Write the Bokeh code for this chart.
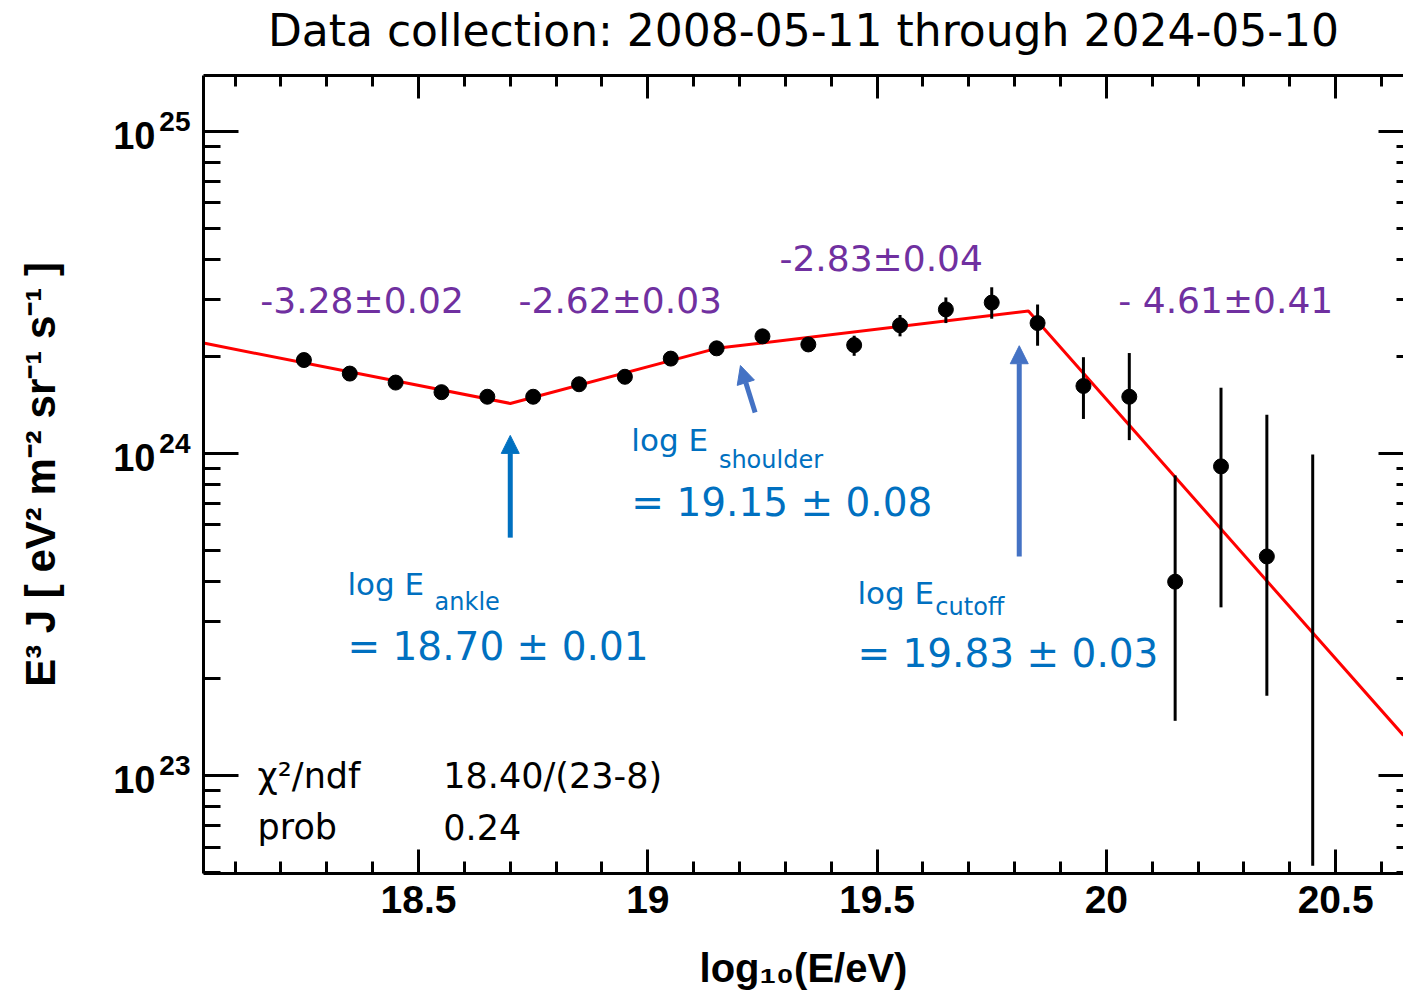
import numpy as np
from bokeh.plotting import figure
from bokeh.models import (ColumnDataSource, FixedTicker, SingleIntervalTicker, LinearAxis,
                          LogAxis, CustomJSTickFormatter, Arrow, NormalHead, Range1d)
from bokeh.core.properties import value
from bokeh.embed import file_html
from bokeh.resources import INLINE

# ---- measured spectrum: bin centres, E^3 J and its error band ----
log_e = [18.25, 18.35, 18.45, 18.55, 18.65, 18.75, 18.85, 18.95, 19.05, 19.15, 19.25,
         19.35, 19.45, 19.55, 19.65, 19.75, 19.85, 19.95, 20.05, 20.15, 20.25, 20.35, 20.45]
flux = [1.95e24, 1.77e24, 1.66e24, 1.55e24, 1.50e24, 1.50e24, 1.64e24, 1.73e24, 1.97e24,
        2.12e24, 2.31e24, 2.18e24, 2.17e24, 2.50e24, 2.80e24, 2.94e24, 2.54e24, 1.62e24,
        1.50e24, 4.00e23, 9.12e23, 4.79e23, np.nan]
flux_lo = [1.92e24, 1.745e24, 1.635e24, 1.525e24, 1.475e24, 1.47e24, 1.61e24, 1.695e24,
           1.925e24, 2.07e24, 2.25e24, 2.11e24, 2.01e24, 2.31e24, 2.54e24, 2.62e24, 2.16e24,
           1.28e24, 1.10e24, 1.48e23, 3.33e23, 1.77e23, 5.25e22]
flux_hi = [1.98e24, 1.795e24, 1.685e24, 1.575e24, 1.525e24, 1.53e24, 1.67e24, 1.765e24,
           2.015e24, 2.17e24, 2.37e24, 2.25e24, 2.32e24, 2.69e24, 3.05e24, 3.28e24, 2.90e24,
           1.99e24, 2.05e24, 8.55e23, 1.60e24, 1.32e24, 9.93e23]

# ---- broken power-law fit: break energies, spectral indices, flux at the ankle ----
fit_breaks = [18.70, 19.15, 19.83]
fit_indices = [3.28, 2.62, 2.83, 4.61]
fit_ankle_flux = 1.43e24

# ---- annotation texts ----
title_text = "Data collection: 2008-05-11 through 2024-05-10"
index_labels = ["-3.28\u00b10.02", "-2.62\u00b10.03", "-2.83\u00b10.04", "- 4.61\u00b10.41"]
break_names = ["ankle", "shoulder", "cutoff"]
break_values = ["= 18.70 \u00b1 0.01", "= 19.15 \u00b1 0.08", "= 19.83 \u00b1 0.03"]
stat_labels = ["\u03c7\u00b2/ndf", "18.40/(23-8)", "prob", "0.24"]
decade_exponents = [23, 24, 25]

X0, X1 = 18.031, 20.648
Y0, Y1 = 4.97e22, 1.49e25
PX_PER_DECADE = 322.0

p = figure(width=1403, height=1004, x_range=Range1d(X0, X1), y_range=Range1d(Y0, Y1),
           y_axis_type="log", output_backend="svg", toolbar_location=None,
           min_border_left=203, min_border_right=0, min_border_top=75, min_border_bottom=131,
           background_fill_color="white", border_fill_color="white")
p.outline_line_color = None
p.xgrid.visible = False
p.ygrid.visible = False


def shifted(px):
    # same log scale, moved by px pixels, used to raise/lower tick label pieces
    f = 10 ** (px / PX_PER_DECADE)
    return Range1d(Y0 / f, Y1 / f)


p.extra_y_ranges = {"exp": shifted(10), "base": shifted(-4)}

decades = [10.0 ** e for e in decade_exponents]
minor_decade = [m * 10.0 ** e for e in (22, 23, 24) for m in range(2, 10)]
y_ticker = FixedTicker(ticks=decades, minor_ticks=minor_decade)
x_ticker = SingleIntervalTicker(interval=0.5, num_minor_ticks=5)

base_fmt = CustomJSTickFormatter(code="return '10';")
exp_fmt = CustomJSTickFormatter(code="return String(Math.round(Math.log10(tick)));")
num_fmt = CustomJSTickFormatter(code="return Number(tick.toFixed(1)).toString();")
blank_fmt = CustomJSTickFormatter(code="return '';")


def frame_style(ax, major_in, minor_in):
    ax.axis_line_width = 3
    ax.axis_line_color = "black"
    ax.major_tick_line_width = 3
    ax.minor_tick_line_width = 3
    ax.major_tick_in = major_in
    ax.major_tick_out = 0
    ax.minor_tick_in = minor_in
    ax.minor_tick_out = 0
    ax.major_label_text_color = "black"
    ax.axis_label_text_color = "black"


def label_only(ax):
    ax.axis_line_color = None
    ax.major_tick_line_color = None
    ax.minor_tick_line_color = None
    ax.major_tick_in = 0
    ax.major_tick_out = 0
    ax.minor_tick_in = 0
    ax.minor_tick_out = 0
    ax.major_label_text_color = "black"
    ax.axis_label_text_color = "black"
    ax.major_label_text_font = "Liberation Sans"
    ax.major_label_text_font_style = "bold"


# left frame edge with its ticks
ya = p.yaxis[0]
ya.ticker = y_ticker
ya.formatter = blank_fmt
frame_style(ya, 35, 17)
ya.major_label_text_font_size = "0px"
ya.major_label_standoff = 0

# decade labels: raised exponent next to the frame, "10" outside it
exp_axis = LogAxis(y_range_name="exp", ticker=y_ticker, formatter=exp_fmt)
label_only(exp_axis)
exp_axis.major_label_text_font_size = "28px"
exp_axis.major_label_standoff = 13
p.add_layout(exp_axis, "left")

base_axis = LogAxis(y_range_name="base", ticker=y_ticker, formatter=base_fmt)
label_only(base_axis)
base_axis.major_label_text_font_size = "38px"
base_axis.major_label_standoff = 1
base_axis.axis_label = "E\u00b3 J [ eV\u00b2 m\u207b\u00b2 sr\u207b\u00b9 s\u207b\u00b9 ]"
base_axis.axis_label_text_font = "Liberation Sans"
base_axis.axis_label_text_font_style = "bold"
base_axis.axis_label_text_font_size = "42px"
base_axis.axis_label_standoff = 46
p.add_layout(base_axis, "left")

# bottom axis
xa = p.xaxis[0]
xa.ticker = x_ticker
xa.formatter = num_fmt
frame_style(xa, 24, 12)
xa.major_label_text_font = "Liberation Sans"
xa.major_label_text_font_style = "bold"
xa.major_label_text_font_size = "39px"
xa.major_label_standoff = 12
xa.axis_label = "log\u2081\u2080(E/eV)"
xa.axis_label_text_font = "Liberation Sans"
xa.axis_label_text_font_style = "bold"
xa.axis_label_text_font_size = "40px"
xa.axis_label_standoff = 30

# top frame edge, carrying the heading
top = LinearAxis(ticker=x_ticker, formatter=blank_fmt, major_label_text_font_size="0px",
                 major_label_standoff=0)
frame_style(top, 23, 11)
top.axis_label = title_text
top.axis_label_text_font = "DejaVu Sans"
top.axis_label_text_font_style = "normal"
top.axis_label_text_font_size = "44px"
top.axis_label_standoff = 20
p.add_layout(top, "above")

# right frame ticks
right = LogAxis(ticker=y_ticker, formatter=blank_fmt, major_label_text_font_size="0px",
                major_label_standoff=0)
frame_style(right, 25, 7)
right.axis_line_color = None
p.add_layout(right, "right")

# fit curve: straight segments in log-log between the breaks
knots_x = [X0] + fit_breaks + [X1]
knots_logy = [np.log10(fit_ankle_flux) - (3 - fit_indices[0]) * (fit_breaks[0] - X0)]
for i in range(1, len(knots_x)):
    slope = 3 - fit_indices[i - 1]
    knots_logy.append(knots_logy[-1] + slope * (knots_x[i] - knots_x[i - 1]))
p.line(knots_x, [10 ** v for v in knots_logy], line_width=3, line_color="#ff0000")

# data with error bars
src = ColumnDataSource(dict(x=log_e, y=flux, lo=flux_lo, hi=flux_hi))
p.segment(x0="x", y0="lo", x1="x", y1="hi", source=src, line_width=3, line_color="black")
p.scatter(x="x", y="y", source=src, size=15, color="black")

# spectral index labels
p.text(x=[18.155, 18.718, 19.287, 20.026], y=[2.99e24, 2.99e24, 4.04e24, 2.99e24],
       text=index_labels, text_font=value("DejaVu Sans"), text_font_size="36px",
       text_color="#7030a0", text_baseline="middle", text_align="left")

# break energy labels
blue = "#0070c0"
name_x = [18.345, 18.964, 19.457]
p.text(x=name_x, y=[3.94e23, 1.10e24, 3.70e23], text=["log E"] * 3,
       text_font=value("DejaVu Sans"), text_font_size="31px", text_color=blue,
       text_baseline="middle", text_align="left")
p.text(x=[18.535, 19.155, 19.627], y=[3.47e23, 9.57e23, 3.35e23], text=break_names,
       text_font=value("DejaVu Sans"), text_font_size="24px", text_color=blue,
       text_baseline="middle", text_align="left")
p.text(x=name_x, y=[2.52e23, 7.05e23, 2.39e23], text=break_values,
       text_font=value("DejaVu Sans"), text_font_size="39px", text_color=blue,
       text_baseline="middle", text_align="left")

# arrows pointing at the breaks
arrow_specs = [
    (18.70, 5.48e23, 18.70, 1.138e24, "#0070c0"),
    (19.234, 1.34e24, 19.202, 1.875e24, "#4472c4"),
    (19.81, 4.79e23, 19.81, 2.16e24, "#4472c4"),
]
for xs, ys, xe, ye, c in arrow_specs:
    p.add_layout(Arrow(x_start=xs, y_start=ys, x_end=xe, y_end=ye, line_width=5, line_color=c,
                       end=NormalHead(size=18, fill_color=c, line_color=c, line_width=1)))

# fit quality
p.text(x=[18.149, 18.554, 18.149, 18.554], y=[1.0e23, 1.0e23, 6.95e22, 6.95e22],
       text=stat_labels, text_font=value("DejaVu Sans"), text_font_size="35px",
       text_color="black", text_baseline="middle", text_align="left")

with open("out.html", "w", encoding="utf-8") as f:
    f.write(file_html(p, INLINE))
